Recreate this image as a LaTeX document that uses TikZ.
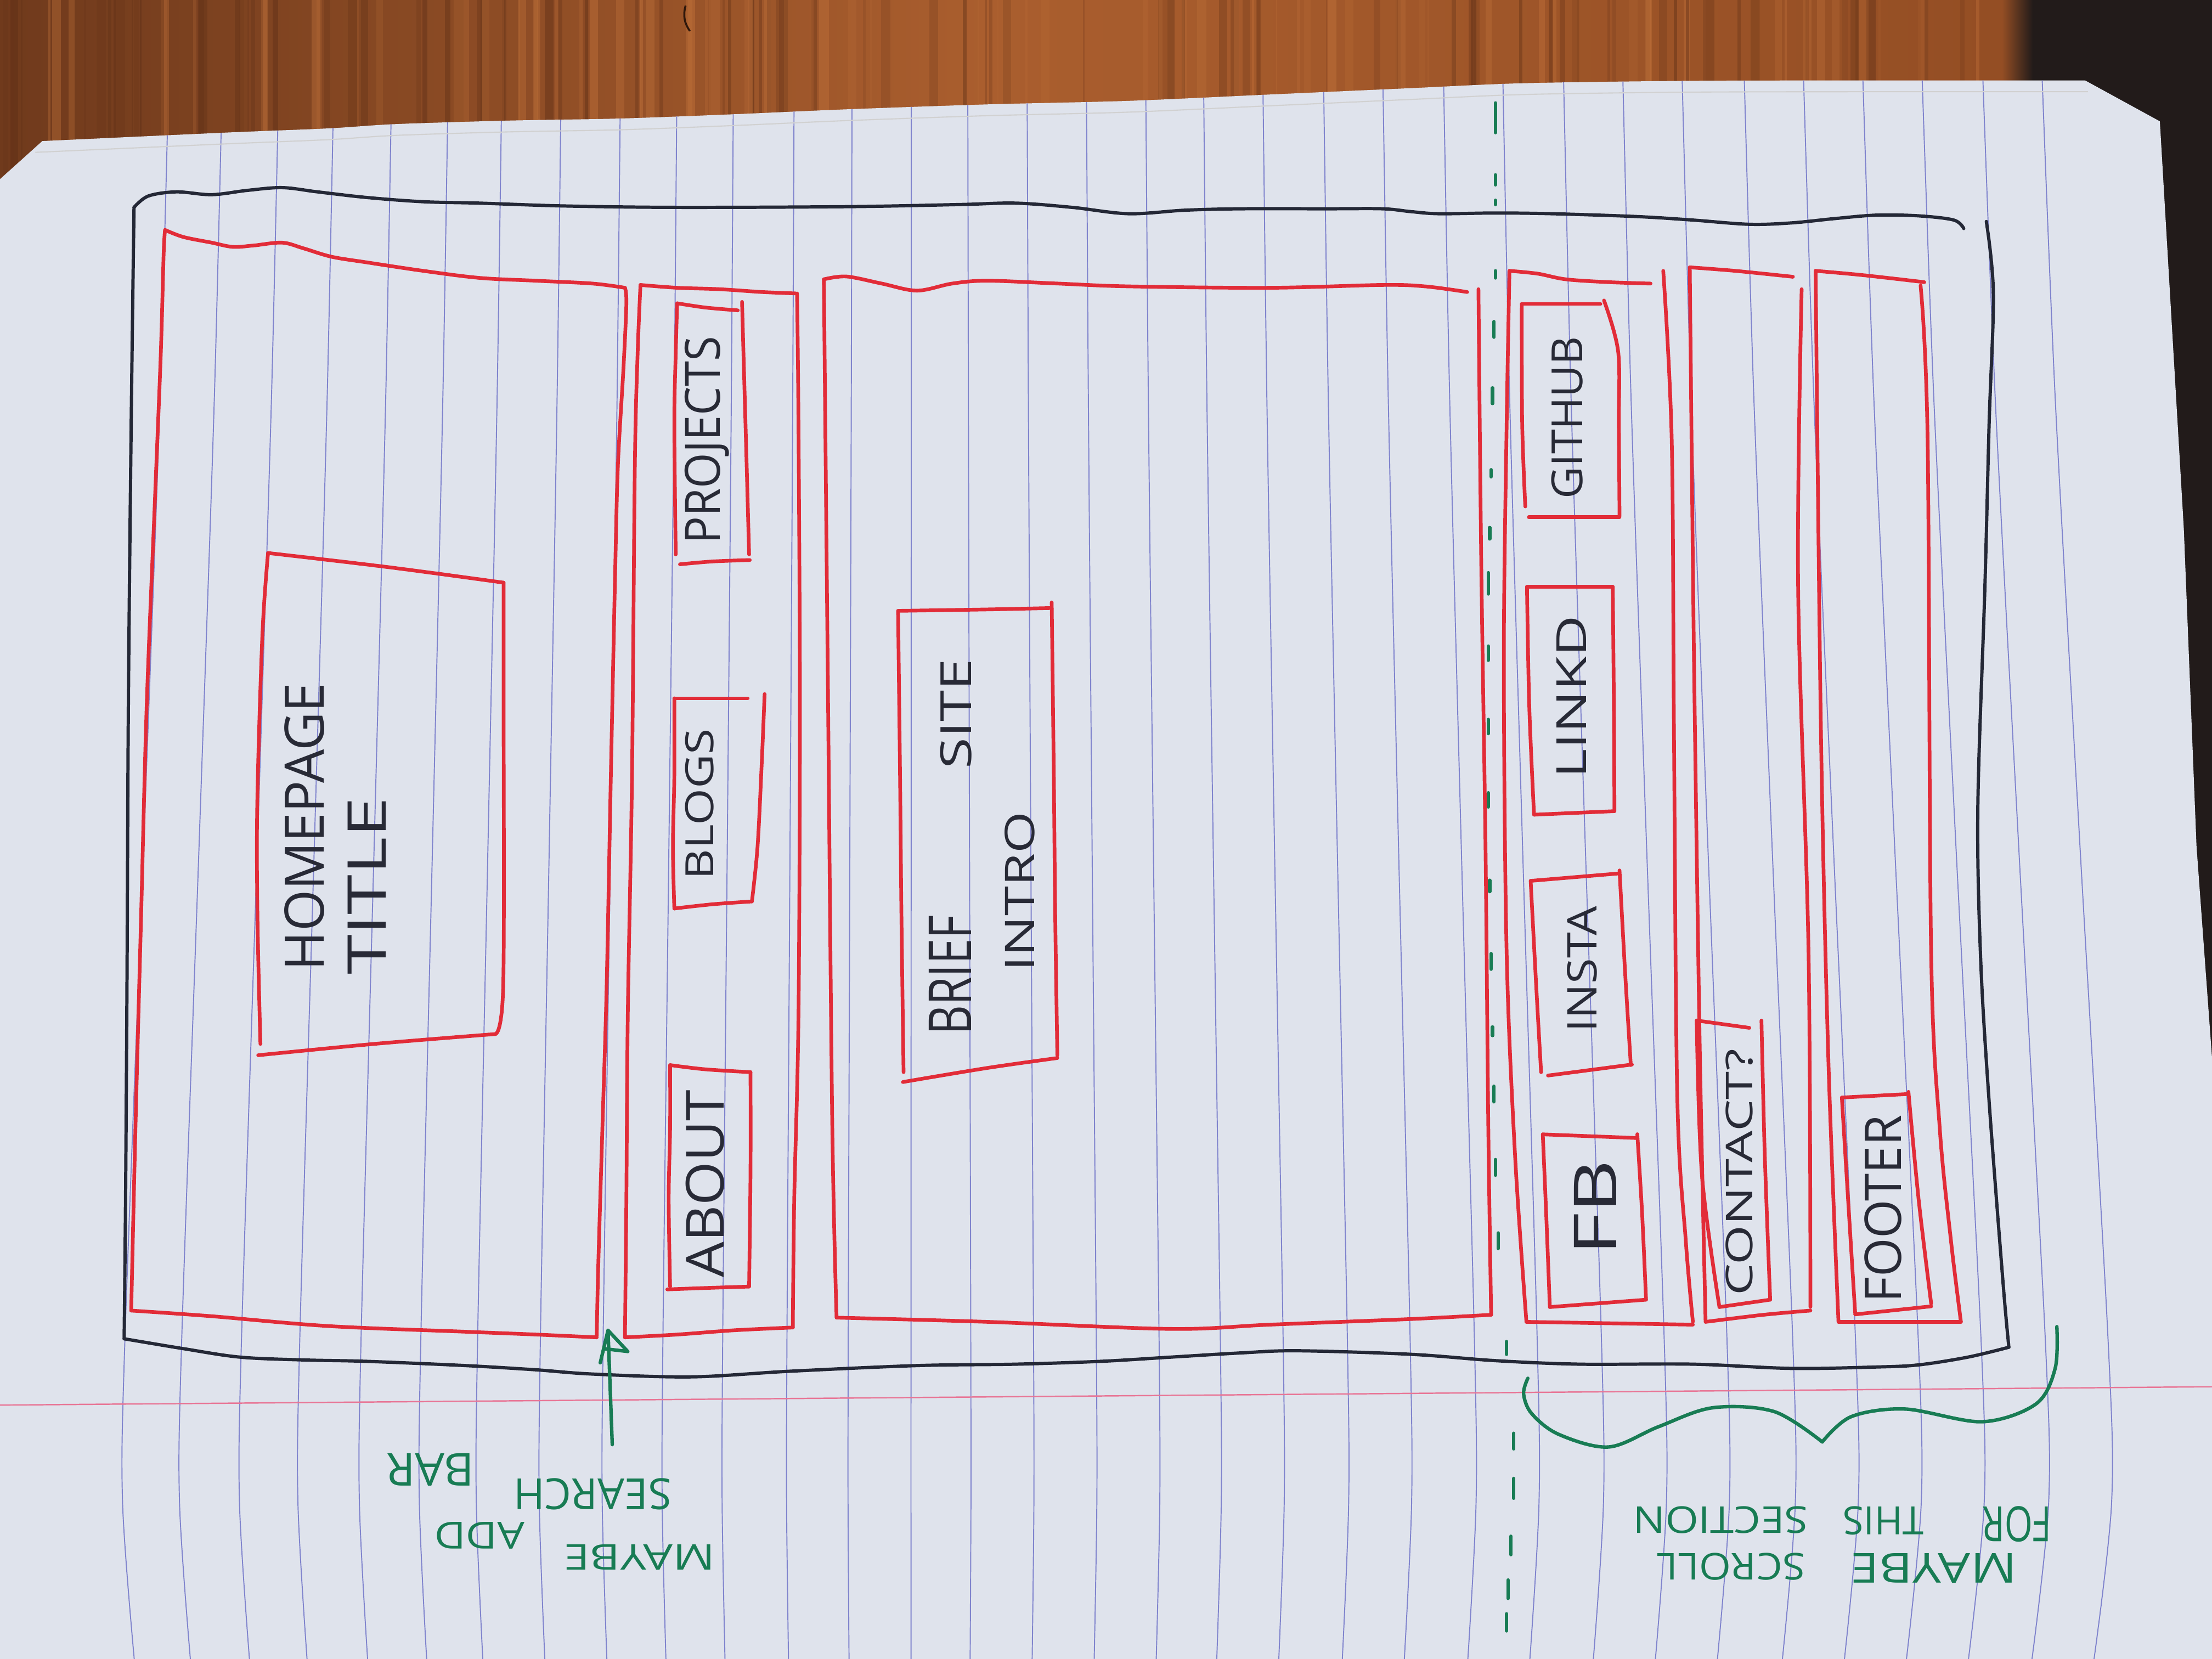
\documentclass[tikz,border=0pt]{standalone}
\usepackage{fontspec}
\usepackage{graphicx}
\newfontfamily\hand{Open Sans}
\newlength\px
\setlength\px{0.025714cm}
% a word scaled to a given length along the text and a given letter height
\newcommand\hw[3]{\resizebox{#1\px}{#2\px}{\hand #3}}
% one hand-drawn pen stroke through a list of points
\newcommand\penline[2]{\draw[#1] plot[smooth, tension=0.55] coordinates {#2};}

\definecolor{paper}{RGB}{223,227,236}
\definecolor{rulecol}{RGB}{128,132,205}
\definecolor{margincol}{RGB}{232,118,150}
\definecolor{inkred}{RGB}{226,44,56}
\definecolor{inkblack}{RGB}{36,40,54}
\definecolor{inkgreen}{RGB}{24,124,84}
\definecolor{pencil}{RGB}{40,42,54}
\definecolor{woodA}{RGB}{112,58,28}
\definecolor{woodB}{RGB}{170,94,46}
\definecolor{woodC}{RGB}{148,78,36}
\definecolor{woodDark}{RGB}{92,46,22}
\definecolor{woodLight}{RGB}{196,116,60}
\definecolor{tabledark}{RGB}{34,27,26}

\tikzset{
  blackpen/.style={draw=inkblack, line width=1.7pt, line cap=round, line join=round},
  redpen/.style={draw=inkred, line width=1.9pt, line cap=round, line join=round},
  greenpen/.style={draw=inkgreen, line width=1.8pt, line cap=round, line join=round},
  ruleline/.style={draw=rulecol, line width=0.55pt},
  marginline/.style={draw=margincol, line width=0.7pt},
  boxtext/.style={inner sep=0pt, text=pencil, rotate=90},
  greennote/.style={inner sep=0pt, text=inkgreen},
}

\begin{document}
\begin{tikzpicture}[x=0.025714cm, y=-0.025714cm]
\useasboundingbox (0,0) rectangle (1568,1176);

% ---------- wooden table ----------
\shade[left color=woodA, right color=woodB] (0,0) rectangle (700,140);
\shade[left color=woodB, right color=woodC] (700,0) rectangle (1420,140);
\fill[tabledark] (1440,0) rectangle (1568,800);
\shade[left color=woodC, right color=tabledark] (1419,0) rectangle (1441,140);
\pgfmathsetseed{2718}
\foreach \k in {1,...,170}{
  \pgfmathsetmacro\xx{rnd*1415}
  \pgfmathsetmacro\ww{0.8+rnd*6}
  \pgfmathsetmacro\oo{0.12+rnd*0.3}
  \pgfmathsetmacro\cc{rnd}
  \ifdim\cc pt<0.55pt
    \fill[woodDark, opacity=\oo] (\xx,0) rectangle ++(\ww,140);
  \else
    \fill[woodLight, opacity=\oo] (\xx,0) rectangle ++(\ww,140);
  \fi
}
\draw[woodDark!50!black, line width=1pt] (486,4) to[bend right=25] (489,22);

% ---------- sheet of paper ----------
\fill[paper] (0,127) -- (30,100) -- plot[smooth, tension=0.5] coordinates {(30,100) (160,94) (233,91) (280,88) (360,85.5) (440,84) (520,81) (600,77.5) (700,74) (800,71.5) (900,67) (1000,62.5) (1080,59) (1200,57.3) (1340,57) (1478,57)} -- (1531,86) -- (1548,375) -- (1557,600) -- (1568,750) -- (1568,1176) -- (0,1176) -- cycle;

\begin{scope}
  \clip (0,127) -- (30,100) -- plot[smooth, tension=0.5] coordinates {(30,100) (160,94) (233,91) (280,88) (360,85.5) (440,84) (520,81) (600,77.5) (700,74) (800,71.5) (900,67) (1000,62.5) (1080,59) (1200,57.3) (1340,57) (1478,57)} -- (1531,86) -- (1548,375) -- (1557,600) -- (1568,750) -- (1568,1176) -- (0,1176) -- cycle;
  % ruled lines, bowing outwards towards the bottom of the sheet
  \foreach \xt in {120,158,198,237,278,318,356,398,440,480,520,563,604,646,686,728,770,812,853,895,938,980,1023,1065,1108,1150,1192,1236,1278,1320,1362,1405,1447}{
    \pgfmathsetmacro\cc{(\xt-650)/16}
    \draw[ruleline] plot[smooth] coordinates {(\xt,40) ({\xt+0.2*\cc},285) ({\xt+0.55*\cc},600) ({\xt+0.95*\cc},950) ({\xt+\cc},1065) ({\xt+0.75*\cc},1176)};
  }
  % fold strip along the top edge
  \draw[black!18, line width=0.6pt] plot[smooth, tension=0.5] coordinates {(25,108) (160,102) (233,99) (280,96) (360,93.5) (440,92) (520,89) (600,85.5) (700,82) (800,79.5) (900,75) (1000,70.5) (1080,67) (1200,65.3) (1340,65) (1480,65)};
  % margin line
  \draw[marginline] (0,996) -- (1568,983);
\end{scope}

% ---------- outer page frame (black) ----------
\penline{blackpen}{(95,147) (105,139) (125,136) (150,138) (175,135) (200,133) (225,136) (260,140) (300,143) (340,144) (400,146) (480,147) (600,146.5) (680,145) (720,144) (760,147) (800,151.5) (840,149) (880,148) (940,148) (980,148) (1000,150) (1020,151.5) (1060,151) (1100,151.5) (1160,153.5) (1200,156) (1240,159) (1270,158) (1300,155) (1330,152.5) (1360,153) (1385,156) (1392,162)}
\penline{blackpen}{(1408,157) (1413,208) (1410,300) (1407,416) (1402,572) (1404,680) (1410,781) (1420,911) (1424,955)}
\penline{blackpen}{(88,949) (130,956) (170,962) (215,964) (260,965) (330,968) (380,971) (420,974) (490,976) (560,972) (650,968) (720,967) (780,965) (830,962) (880,959) (920,957.5) (1000,960) (1060,964.5) (1120,967) (1200,967) (1270,970) (1330,969) (1360,967.5) (1395,962) (1424,955)}
\penline{blackpen}{(95,147) (93,300) (91,500) (90,700) (89,850) (88,949)}

% ---------- header block ----------
\penline{redpen}{(117,163) (130,168) (150,172) (165,175) (180,174) (200,172) (215,176) (235,182) (260,186) (300,192) (340,197) (380,199) (420,201) (443,204)}
\penline{redpen}{(443,204) (444,215) (442,260) (438,330) (436,408) (433,550) (430,700) (427,800) (424,900) (423,947)}
\penline{redpen}{(423,948) (380,946) (330,944) (233,940) (150,933) (93,929)}
\penline{redpen}{(93,929) (96,800) (100,650) (104,500) (110,350) (114,250) (116,180) (117,163)}

\penline{redpen}{(190,392) (275,402) (357,413)}
\penline{redpen}{(357,413) (357,500) (356.7,699) (351,733)}
\penline{redpen}{(351,733) (265,740) (183,748)}
\penline{redpen}{(184.6,740) (182.5,650) (182.4,568) (186,450) (190,392)}
\node[boxtext] (homepage) at (216,586) {\hw{204}{28}{HOMEPAGE}};
\node[boxtext] (title) at (260,628) {\hw{126}{27}{TITLE}};

% ---------- navigation bar ----------
\penline{redpen}{(454,202) (480,204) (510,205) (540,207) (564,208)}
\penline{redpen}{(565,208) (566,300) (567,500) (566,720) (563,850) (562,941)}
\penline{redpen}{(562,941) (520,943) (480,946) (443,948)}
\penline{redpen}{(443,948) (444,850) (445,720) (448,550) (450,331) (452,250) (454,202)}

\penline{redpen}{(480,215) (500,218) (523,220)}
\penline{redpen}{(526,214) (527,250) (529,320) (531,393)}
\penline{redpen}{(531.5,397) (505,398) (482,400)}
\penline{redpen}{(479,393) (478,300) (479,250) (480,215)}
\node[boxtext] (projects) at (501,312) {\hw{147}{25}{PROJECTS}};

\penline{redpen}{(478,495) (500,495) (530,495)}
\penline{redpen}{(542,492) (540,540) (537,600) (533,639)}
\penline{redpen}{(533,639) (505,641) (478,644)}
\penline{redpen}{(478,644) (477,600) (478,550) (478,495)}
\node[boxtext] (blogs) at (496,570) {\hw{107}{20}{BLOGS}};

\penline{redpen}{(475,755) (500,758) (532,760)}
\penline{redpen}{(532,760) (532,830) (531,912)}
\penline{redpen}{(531,912) (500,913) (473,914)}
\penline{redpen}{(475,912) (474,850) (475,800) (475,755)}
\node[boxtext] (about) at (500,839) {\hw{133}{27}{ABOUT}};

% ---------- intro block ----------
\penline{redpen}{(584,198) (600,196) (625,201) (650,206) (675,201) (700,199) (750,201) (800,203) (900,204) (980,202) (1010,203) (1040,207)}
\penline{redpen}{(1048,205) (1050,400) (1053,600) (1055,800) (1057,932)}
\penline{redpen}{(1057,932) (1000,935) (900,939) (830,942) (700,937) (593,934)}
\penline{redpen}{(593,934) (590,800) (587,500) (585,300) (584,198)}

\penline{redpen}{(636.6,433) (700,432) (745.5,431)}
\penline{redpen}{(745.5,427) (747,550) (748,650) (749.5,748)}
\penline{redpen}{(749.5,750) (700,757) (640,767)}
\penline{redpen}{(640.5,760) (639,650) (638,550) (636.6,433)}
\node[boxtext] (briefsite) at (673.5,600.5) {\hw{85}{30}{BRIEF}\hspace{103.8\px}\hw{77.7}{22}{SITE}};
\node[boxtext] (intro) at (723,632) {\hw{113}{21}{INTRO}};

% ---------- social links ----------
\penline{redpen}{(1070,192) (1090,194) (1110,198) (1140,200) (1170,201)}
\penline{redpen}{(1179,192) (1185,312) (1186.6,520) (1189,780) (1195,880) (1200,937)}
\penline{redpen}{(1082,937) (1140,938) (1200,939)}
\penline{redpen}{(1070,192) (1068,300) (1066,468) (1068,676) (1074,820) (1082,937)}

\penline{redpen}{(1078.7,215.5) (1134.5,215.5)}
\penline{redpen}{(1137,213) (1147,249) (1147.5,300) (1148,366)}
\penline{redpen}{(1148,366.6) (1083.7,366.6)}
\penline{redpen}{(1081.2,359) (1079,300) (1078.7,215.5)}
\node[boxtext] (github) at (1111,296) {\hw{115}{22}{GITHUB}};

\penline{redpen}{(1082.4,416) (1143.2,416)}
\penline{redpen}{(1143.2,416) (1144,500) (1144.4,575)}
\penline{redpen}{(1144.4,575) (1087.4,577.5)}
\penline{redpen}{(1087.4,577.5) (1084,500) (1082.4,416)}
\node[boxtext] (linkd) at (1114,494) {\hw{115}{21}{LINKD}};

\penline{redpen}{(1085,624.4) (1147,619.2)}
\penline{redpen}{(1148,617) (1152,690) (1156,755)}
\penline{redpen}{(1156.8,754.6) (1097.3,762.4)}
\penline{redpen}{(1092.4,760) (1089,700) (1085,624.4)}
\node[boxtext] (insta) at (1121.5,687) {\hw{89}{21}{INSTA}};

\penline{redpen}{(1093.6,804.1) (1160.6,806.7)}
\penline{redpen}{(1160.6,804) (1164,860) (1166.8,921.3)}
\penline{redpen}{(1166.8,921.3) (1098.6,926.5)}
\penline{redpen}{(1098.6,926.5) (1096,860) (1093.6,804.1)}
\node[boxtext] (fb) at (1131,856) {\hw{68}{30}{FB}};

% ---------- contact ----------
\penline{redpen}{(1197.8,189.5) (1230,192) (1270.9,196.2)}
\penline{redpen}{(1277.1,205) (1274.6,416) (1282,676) (1283.3,926.5)}
\penline{redpen}{(1209,937) (1250,932) (1283.3,929)}
\penline{redpen}{(1197.8,189.5) (1200,400) (1201.5,520) (1205,750) (1209,937)}

\penline{redpen}{(1202.7,723.4) (1240,728.6)}
\penline{redpen}{(1248.6,723.4) (1251,820) (1254.8,921.3)}
\penline{redpen}{(1254.8,921.3) (1218.8,926.5)}
\penline{redpen}{(1218.8,926.5) (1206.4,832.8) (1202.7,723.4)}
\node[boxtext] (contact) at (1233,831) {\hw{175}{19}{CONTACT?}};

% ---------- footer ----------
\penline{redpen}{(1287,192) (1320,195) (1364,200)}
\penline{redpen}{(1361.4,202.5) (1366.4,312) (1368.9,676) (1375,800) (1383,880) (1390,937)}
\penline{redpen}{(1303.2,937) (1350,937) (1390,937)}
\penline{redpen}{(1287,192) (1290.8,520) (1296,750) (1303.2,937)}

\penline{redpen}{(1305.6,778) (1352.8,775.5)}
\penline{redpen}{(1352.8,774) (1360,850) (1368.9,924)}
\penline{redpen}{(1368.9,926) (1315.1,931.7)}
\penline{redpen}{(1315.1,931.7) (1310,850) (1305.6,778)}
\node[boxtext] (footer) at (1335,857) {\hw{133}{26}{FOOTER}};

% ---------- green notes ----------
% dashed divider before the scrolling section
\foreach \x/\a/\b in {1060/73/94, 1060/124/131, 1060/142/145, 1060/192/197, 1059/228/239, 1058/275/286, 1057/333/338, 1056/374/382, 1055/406/421, 1055/458/468, 1055/510/520, 1055/562/572, 1056/624/632, 1057/676/687, 1058/728/734, 1059/770/781, 1060/822/833, 1062/874/885, 1068/951/960, 1073/1016/1027, 1073/1048/1062, 1071/1089/1102, 1069/1120/1133, 1068/1144/1156}{
  \draw[greenpen] (\x,\a) -- (\x,\b);
}

% brace under the scrolling section
\penline{greenpen}{(1083,977) (1080,988) (1085.7,1002) (1104.8,1016.7) (1140.3,1025.7) (1175.7,1011.3) (1214,997.9) (1257.6,1000.6) (1291.7,1022.1)}
\penline{greenpen}{(1291.7,1022.1) (1312.2,1004.2) (1350.4,998.8) (1405,1007.8) (1443.2,995.2) (1456.8,970) (1458,940.4)}

% arrow pointing at the gap under the header
\coordinate (arrtail) at (434,1024);
\coordinate (arrtip) at (431,943);
\draw[greenpen] (arrtail) -- (arrtip);
\draw[greenpen] (425.5,966) -- (arrtip) -- (445,958) -- (428,956);

% upside-down note under the arrow, one node per word, stepping upwards
\node[greennote, rotate=180] (wmaybe) at (453.4,1104) {\hw{107}{18}{MAYBE}};
\node[greennote, rotate=180] (wadd) at (340,1088.5) {\hw{64}{19}{ADD}};
\node[greennote, rotate=180] (wsearch) at (420,1059) {\hw{112}{22}{SEARCH}};
\node[greennote, rotate=180] (wbar) at (305,1042) {\hw{62}{23}{BAR}};

% upside-down note under the brace
\node[greennote, rotate=180, anchor=base] (scrollA) at (1302,1101) {\hw{117.5}{21}{MAYBE}\hspace{32.6\px}\hw{105}{19}{SCROLL}};
\node[greennote, rotate=180, anchor=base] (scrollB) at (1306,1068) {\hw{49}{25}{FOR}\hspace{41.7\px}\hw{57.3}{20}{THIS}\hspace{24.7\px}\hw{124}{19}{SECTION}};

\end{tikzpicture}
\end{document}
